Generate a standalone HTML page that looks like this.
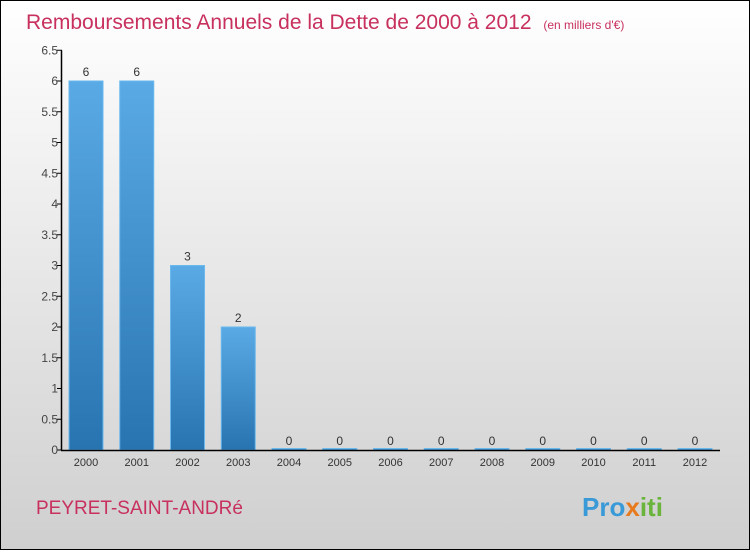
<!DOCTYPE html>
<html><head><meta charset="utf-8"><style>
body{margin:0;width:750px;height:550px;overflow:hidden;font-family:"Liberation Sans",sans-serif}
</style></head><body>
<svg width="750" height="550">
<defs>
<linearGradient id="bg" x1="0" y1="0" x2="0" y2="1"><stop offset="0" stop-color="#ffffff"/><stop offset="1" stop-color="#cfcfcf"/></linearGradient>
<linearGradient id="bar" x1="0" y1="0" x2="0" y2="1"><stop offset="0" stop-color="#5aaae6"/><stop offset="1" stop-color="#2874b0"/></linearGradient>
</defs>
<rect x="0.5" y="0.5" width="749" height="549" fill="url(#bg)" stroke="#000"/>
<text x="26" y="29" font-size="21" fill="#c8305e">Remboursements Annuels de la Dette de 2000 à 2012 <tspan font-size="12" dx="6">(en milliers d'€)</tspan></text>
<text x="36" y="514" font-size="19" fill="#c8305e">PEYRET-SAINT-ANDRé</text>
<text x="582" y="516" font-size="26" font-weight="bold" fill="#3a9ad8">Pro<tspan fill="#e87a1e">x</tspan><tspan fill="#6ab43c">iti</tspan></text>
<g id="plot"></g>
</svg>
<script>
const years=["2000","2001","2002","2003","2004","2005","2006","2007","2008","2009","2010","2011","2012"];
const values=[6,6,3,2,0,0,0,0,0,0,0,0,0];
const ticks=[0,0.5,1,1.5,2,2.5,3,3.5,4,4.5,5,5.5,6,6.5];
const NS="http://www.w3.org/2000/svg";
const g=document.getElementById('plot');
const y=v=>450-v*61.5, x=i=>86+i*50.75;
function mk(t,a,txt){const e=document.createElementNS(NS,t);for(const k in a)e.setAttribute(k,a[k]);if(txt!==undefined)e.textContent=txt;g.appendChild(e);return e;}
values.forEach((v,i)=>{
 const h=Math.max(v*61.5,1.5);
 const r=mk('rect',{x:x(i)-17,y:450-h,width:34,height:h,fill:'url(#bar)',stroke:'#6ab8ee','stroke-width':1});
 
 
 const t=mk('text',{x:x(i),y:y(v)-5,'text-anchor':'middle','font-size':12,fill:'#333'},String(v));
 
 
 const l=mk('text',{x:x(i),y:466,'text-anchor':'middle','font-size':11,fill:'#333'},years[i]);
 
 
});
ticks.forEach(t=>{
 const ln=mk('line',{x1:57,x2:62,y1:y(t),y2:y(t),stroke:'#000'});
 
 
 const tx=mk('text',{x:58,y:y(t)+4,'text-anchor':'end','font-size':12,fill:'#444'},String(t));
 
 
});
const ya=mk('line',{x1:61.5,x2:61.5,y1:y(6.5),y2:450.5,stroke:'#000','stroke-width':1.5});


const xa=mk('line',{x1:61,x2:720,y1:450.5,y2:450.5,stroke:'#000','stroke-width':1.5});


</script>
</body></html>
